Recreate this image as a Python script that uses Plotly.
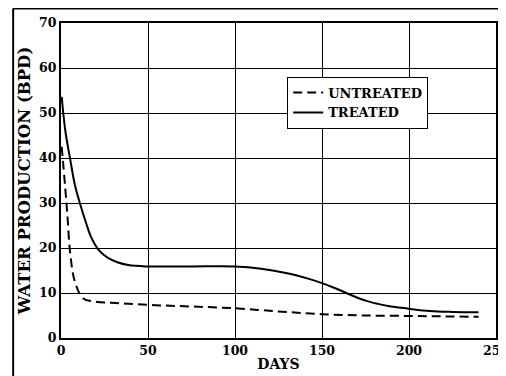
import plotly.graph_objects as go

days_treated = [0.4, 2.5, 5.2, 8, 10.9, 14.8, 17, 19.5, 22, 24.5, 27, 32, 38.7, 50, 75, 100, 115, 130, 142, 150, 158, 164, 170, 176, 182, 188, 194, 200, 212, 225, 240]
treated = [53.6, 46, 39.9, 34, 29.9, 25.1, 22.7, 20.8, 19.4, 18.5, 17.8, 16.9, 16.2, 15.9, 15.9, 15.9, 15.4, 14.4, 13.2, 12.2, 11.0, 10.0, 9.0, 8.2, 7.6, 7.1, 6.8, 6.5, 6.0, 5.8, 5.7]

days_untreated = [0.4, 2.3, 3.8, 5.2, 8, 12.8, 19.5, 35, 54, 75, 100, 125, 150, 175, 200, 220, 240]
untreated = [42.5, 34, 26.6, 19.2, 12.5, 8.8, 8.1, 7.7, 7.3, 7.0, 6.6, 5.9, 5.3, 5.0, 4.9, 4.8, 4.7]

x_ticks = [0, 50, 100, 150, 200, 250]
y_ticks = [0, 10, 20, 30, 40, 50, 60, 70]

FONT = "DejaVu Serif"

fig = go.Figure()
fig.add_trace(go.Scatter(x=days_untreated, y=untreated, mode="lines", name="UNTREATED",
                         line=dict(color="black", width=2, dash="9px,5px", shape="spline", smoothing=1.0)))
fig.add_trace(go.Scatter(x=days_treated, y=treated, mode="lines", name="TREATED",
                         line=dict(color="black", width=2, shape="spline", smoothing=1.0)))

fig.update_layout(
    width=506, height=376,
    margin=dict(l=53, r=18, t=15, b=46),
    paper_bgcolor="white", plot_bgcolor="white",
    font=dict(family=FONT, color="black", size=12),
    showlegend=True,
    legend=dict(x=0.52, y=0.83, xanchor="left", yanchor="top",
                bgcolor="white", bordercolor="black", borderwidth=1,
                font=dict(family=FONT, size=13, weight="bold"),
                tracegroupgap=0, itemwidth=30),
    xaxis=dict(range=[0, 250], tickvals=x_ticks, showgrid=True, gridcolor="black", gridwidth=1,
               showline=True, linecolor="black", linewidth=2, mirror=True, zeroline=False,
               automargin=False, ticks="", tickfont=dict(family=FONT, size=12.5, weight="bold"),
               title=dict(text="DAYS", font=dict(family=FONT, size=14, weight="bold"), standoff=2)),
    yaxis=dict(range=[0, 70], tickvals=y_ticks, showgrid=True, gridcolor="black", gridwidth=1,
               showline=True, linecolor="black", linewidth=2, mirror=True, zeroline=False,
               automargin=False, ticks="", tickfont=dict(family=FONT, size=12.5, weight="bold"),
               title=dict(text="WATER PRODUCTION (BPD)", font=dict(family=FONT, size=16.5, weight="bold"), standoff=4)),
)

# outer frame of the scanned figure (left and top edges)
fig.add_shape(type="line", xref="paper", yref="paper", x0=-0.110, x1=-0.110, y0=1.046, y1=-0.2,
              line=dict(color="black", width=2))
fig.add_shape(type="line", xref="paper", yref="paper", x0=-0.110, x1=1.05, y0=1.046, y1=1.046,
              line=dict(color="black", width=2))

fig.write_html("out.html")
